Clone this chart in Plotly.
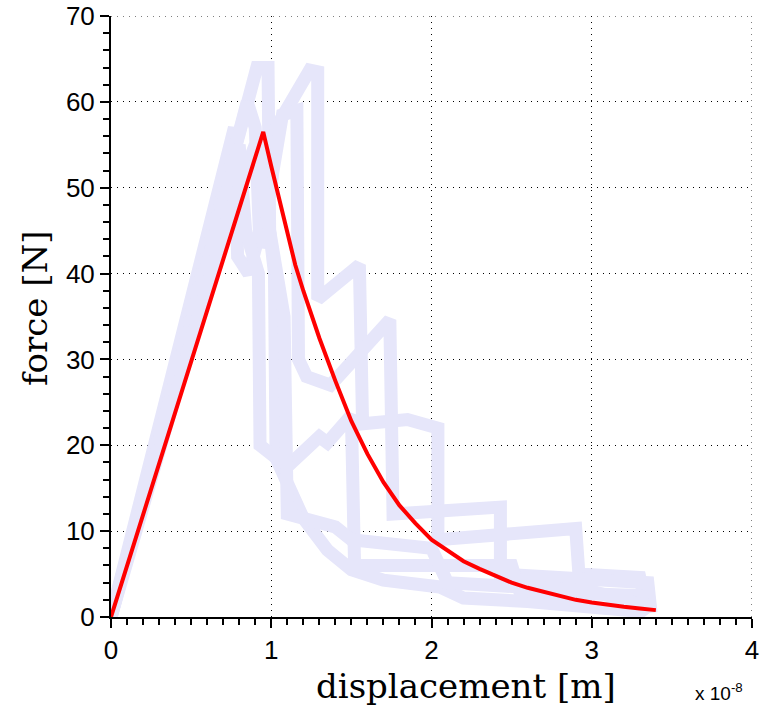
import plotly.graph_objects as go

# displacement in units of 1e-8 m, force in N
fit_x = [0, 0.95, 1.0, 1.05, 1.1, 1.15, 1.2, 1.25, 1.3, 1.4, 1.5, 1.6, 1.7, 1.8, 1.9, 2.0,
         2.1, 2.2, 2.3, 2.4, 2.5, 2.6, 2.7, 2.8, 2.9, 3.0, 3.1, 3.2, 3.3, 3.4]
fit_y = [0, 56.5, 52.5, 48.5, 44.5, 41.0, 38.0, 35.3, 32.5, 27.5, 22.8, 19.0, 15.7, 13.0, 10.9, 9.0,
         7.7, 6.5, 5.6, 4.8, 4.0, 3.4, 2.9, 2.4, 2.0, 1.7, 1.4, 1.2, 1.0, 0.8]

run_a_x = [0, 0.91, 0.98, 0.99, 1.02, 1.03, 1.2, 1.35, 1.5, 1.7, 2.05, 2.2, 2.6, 3.0, 3.33]
run_a_y = [0, 64.0, 64.0, 45.0, 40.0, 18.5, 11.5, 7.8, 5.5, 4.3, 3.5, 2.2, 1.8, 1.2, 0.6]

run_b_x = [0, 0.77, 0.79, 0.86, 1.0, 1.03, 1.24, 1.29, 1.29, 1.55, 1.57, 1.85, 2.04, 2.04, 2.9, 2.92, 3.3, 3.35]
run_b_y = [0, 57.0, 42.0, 40.0, 50.0, 57.0, 63.7, 63.5, 37.0, 41.0, 22.5, 23.0, 22.0, 9.0, 10.3, 5.0, 4.6, 0.5]

run_c_x = [0, 0.85, 0.9, 0.93, 1.07, 1.16, 1.17, 1.22, 1.37, 1.74, 1.76, 2.43, 2.43, 3.35, 3.37]
run_c_y = [0, 60.0, 57.0, 43.0, 58.5, 59.0, 30.0, 28.0, 27.0, 34.6, 12.0, 12.8, 5.0, 4.0, 0.5]

run_d_x = [0, 0.8, 0.84, 0.92, 0.93, 1.05, 1.1, 1.3, 1.35, 1.5, 1.52, 2.5, 2.55, 3.3, 3.35]
run_d_y = [0, 55.0, 45.0, 40.0, 20.0, 18.5, 17.5, 21.0, 20.3, 23.5, 6.0, 6.0, 3.0, 2.5, 0.5]

run_e_x = [0, 0.7, 0.9, 0.95, 1.08, 1.1, 1.4, 1.5, 2.0, 2.1, 3.0, 3.3, 3.35]
run_e_y = [0, 45.0, 55.0, 50.0, 35.0, 12.0, 10.5, 9.0, 8.0, 4.0, 3.0, 1.5, 0.3]

runs = [(run_a_x, run_a_y), (run_b_x, run_b_y), (run_c_x, run_c_y),
        (run_d_x, run_d_y), (run_e_x, run_e_y)]

x_ticks = [0, 1, 2, 3, 4]
y_ticks = [0, 10, 20, 30, 40, 50, 60, 70]

fig = go.Figure()
for rx, ry in runs:
    fig.add_trace(go.Scatter(x=rx, y=ry, mode="lines",
                             line=dict(color="#E6E6FA", width=13),
                             hoverinfo="skip"))
fig.add_trace(go.Scatter(x=fit_x, y=fit_y, mode="lines",
                         line=dict(color="#FF0000", width=4)))

grid_dash = "1px,5px"
axis_common = dict(
    showline=True, linecolor="black", linewidth=2, mirror=False,
    ticks="outside", ticklen=9, tickwidth=2, tickcolor="black",
    showgrid=True, gridcolor="black", gridwidth=1, griddash=grid_dash,
    zeroline=False, automargin=False, ticklabeloverflow="allow",
    tickfont=dict(family="Liberation Sans, Arial, sans-serif", size=26, color="black"),
)

fig.update_xaxes(range=[0, 4], tickvals=x_ticks, ticktext=[str(v) for v in x_ticks],
                 minor=dict(dtick=0.1, ticklen=6, tickwidth=2, tickcolor="black",
                            ticks="outside", showgrid=False),
                 **axis_common)
fig.update_yaxes(range=[0, 70], tickvals=y_ticks, ticktext=[str(v) for v in y_ticks],
                 minor=dict(dtick=2, ticklen=6, tickwidth=2, tickcolor="black",
                            ticks="outside", showgrid=False),
                 **axis_common)

# plotly skips grid lines on the far edges of the range; draw those two as shapes
fig.add_shape(type="line", xref="x", yref="paper", x0=x_ticks[-1], x1=x_ticks[-1], y0=0, y1=1,
              line=dict(color="black", width=1, dash=grid_dash), layer="below")
fig.add_shape(type="line", xref="paper", yref="y", x0=0, x1=1, y0=y_ticks[-1], y1=y_ticks[-1],
              line=dict(color="black", width=1, dash=grid_dash), layer="below")

serif = "DejaVu Serif, Liberation Serif, serif"
fig.add_annotation(text="force [N]", xref="paper", yref="paper", x=-0.1186, y=0.514,
                   textangle=-90, showarrow=False, xanchor="center", yanchor="middle",
                   font=dict(family=serif, size=34, color="black"))
fig.add_annotation(text="displacement [m]", xref="paper", yref="paper", x=0.554, y=-0.1148,
                   showarrow=False, xanchor="center", yanchor="middle",
                   font=dict(family=serif, size=34, color="black"))
fig.add_annotation(text="x 10<sup>-8</sup>", xref="paper", yref="paper", x=0.948, y=-0.125,
                   showarrow=False, xanchor="center", yanchor="middle",
                   font=dict(family="Liberation Sans, Arial, sans-serif", size=19, color="black"))

fig.update_layout(
    width=763, height=708,
    margin=dict(l=111, r=11, t=16, b=91, autoexpand=False),
    plot_bgcolor="white", paper_bgcolor="white",
    showlegend=False,
)

# drop the browser's default 8px body margin so the figure fills the window exactly
fig.write_html("out.html", config={"displayModeBar": False},
               post_script="document.body.style.margin='0';")
